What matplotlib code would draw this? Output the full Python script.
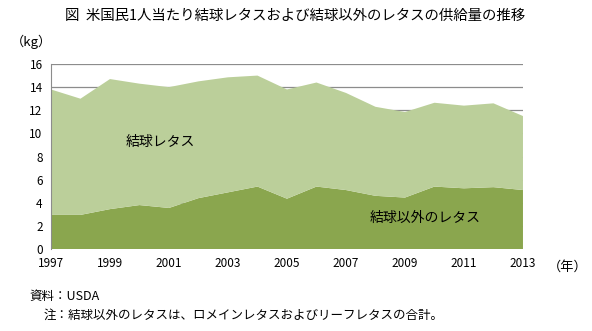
import numpy as np
import matplotlib.pyplot as plt

plt.rcParams['font.family'] = ['Noto Sans CJK JP', 'DejaVu Sans']

years = np.arange(1997, 2014)
# 結球以外のレタス (kg)
non_head = [2.95, 2.95, 3.45, 3.8, 3.55, 4.4, 4.9, 5.4, 4.35,
            5.4, 5.1, 4.6, 4.45, 5.4, 5.25, 5.35, 5.1]
# 結球レタス (kg)
head = [10.85, 10.05, 11.25, 10.5, 10.45, 10.1, 9.95, 9.6, 9.45,
        9.0, 8.4, 7.7, 7.4, 7.25, 7.15, 7.25, 6.4]
yticks = [0, 2, 4, 6, 8, 10, 12, 14, 16]
xticks = [1997, 1999, 2001, 2003, 2005, 2007, 2009, 2011, 2013]

fig = plt.figure(figsize=(5.92, 3.31), dpi=100)
ax = fig.add_axes([0.0861, 0.2477, 0.7973, 0.5589])

ax.stackplot(years, non_head, head, colors=['#8aa64e', '#bbcf9a'],
             linewidth=0, zorder=2)

ax.set_xlim(1997, 2013)
ax.set_ylim(0, 16)
ax.set_yticks(yticks)
ax.set_xticks(xticks)
ax.tick_params(length=0, labelsize=8.5, pad=6)
ax.grid(axis='y', color='#8c8c8c', lw=0.9, zorder=1)
ax.set_axisbelow(True)
for s in ['top', 'right', 'bottom']:
    ax.spines[s].set_visible(False)
ax.spines['left'].set_color('#8c8c8c')

ax.text(2000.7, 9.3, '結球レタス', fontsize=10, ha='center', va='center', zorder=3)
ax.text(2009.7, 2.7, '結球以外のレタス', fontsize=10, ha='center', va='center', zorder=3)

fig.text(0.498, 0.953, '図  米国民1人当たり結球レタスおよび結球以外のレタスの供給量の推移',
         fontsize=10.4, ha='center', va='center')
fig.text(0.018, 0.873, '（kg）', fontsize=9.5, ha='left', va='center')
fig.text(0.925, 0.193, '（年）', fontsize=9.5, ha='left', va='center')
fig.text(0.05, 0.103, '資料：USDA', fontsize=9, ha='left', va='center')
fig.text(0.074, 0.048, '注：結球以外のレタスは、ロメインレタスおよびリーフレタスの合計。',
         fontsize=9, ha='left', va='center')

fig.savefig('out.png', dpi=100)
